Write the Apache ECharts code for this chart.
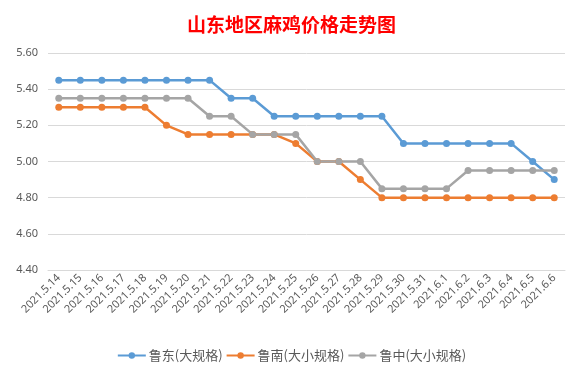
<!DOCTYPE html>
<html><head><meta charset="utf-8">
<script src="https://cdn.jsdelivr.net/npm/echarts@6/dist/echarts.min.js"></script>
<style>html,body{margin:0;padding:0;background:#fff}#c{width:583px;height:370px}</style>
</head><body><div id="c"></div>
<script>
const categories = ['2021.5.14','2021.5.15','2021.5.16','2021.5.17','2021.5.18','2021.5.19','2021.5.20','2021.5.21','2021.5.22','2021.5.23','2021.5.24','2021.5.25','2021.5.26','2021.5.27','2021.5.28','2021.5.29','2021.5.30','2021.5.31','2021.6.1','2021.6.2','2021.6.3','2021.6.4','2021.6.5','2021.6.6'];
const ludong = [5.45,5.45,5.45,5.45,5.45,5.45,5.45,5.45,5.35,5.35,5.25,5.25,5.25,5.25,5.25,5.25,5.10,5.10,5.10,5.10,5.10,5.10,5.00,4.90];
const lunan = [5.30,5.30,5.30,5.30,5.30,5.20,5.15,5.15,5.15,5.15,5.15,5.10,5.00,5.00,4.90,4.80,4.80,4.80,4.80,4.80,4.80,4.80,4.80,4.80];
const luzhong = [5.35,5.35,5.35,5.35,5.35,5.35,5.35,5.25,5.25,5.15,5.15,5.15,5.00,5.00,5.00,4.85,4.85,4.85,4.85,4.95,4.95,4.95,4.95,4.95];
const seriesNames = ['鲁东(大规格)','鲁南(大小规格)','鲁中(大小规格)'];
const colors = ['#5B9BD5','#ED7D31','#A5A5A5'];
const chart = echarts.init(document.getElementById('c'));
const mk = (name, data, color) => ({
  name, type:'line', data, color,
  symbol:'circle', symbolSize:7,
  lineStyle:{width:2.5, color},
  itemStyle:{color}
});
chart.setOption({
  animation:false,
  title:{text:'山东地区麻鸡价格走势图', left:'center', top:10,
    textStyle:{color:'#FF0000', fontSize:19, fontWeight:'bold', fontFamily:'Noto Sans CJK SC'}},
  legend:{bottom:3, left:'center', itemWidth:28, itemHeight:8, itemGap:3,
    textStyle:{color:'#595959', fontSize:13, fontFamily:'Noto Sans CJK SC', padding:[0,0,0,-2]},
    data:seriesNames},
  grid:{left:48, right:18, top:53, bottom:100},
  xAxis:{type:'category', data:categories, boundaryGap:true,
    axisLine:{show:true, lineStyle:{color:'#D9D9D9'}},
    axisTick:{show:false},
    axisLabel:{rotate:45, color:'#595959', fontSize:11, fontFamily:'Microsoft YaHei, Noto Sans', margin:6, interval:0}},
  yAxis:{type:'value', min:4.4, max:5.6, interval:0.2,
    axisLine:{show:false}, axisTick:{show:false},
    splitLine:{lineStyle:{color:'#D9D9D9'}},
    axisLabel:{color:'#595959', fontSize:11, fontFamily:'Noto Sans', formatter:v=>v.toFixed(2), margin:10}},
  series:[mk(seriesNames[0], ludong, colors[0]), mk(seriesNames[1], lunan, colors[1]), mk(seriesNames[2], luzhong, colors[2])]
});
</script></body></html>
